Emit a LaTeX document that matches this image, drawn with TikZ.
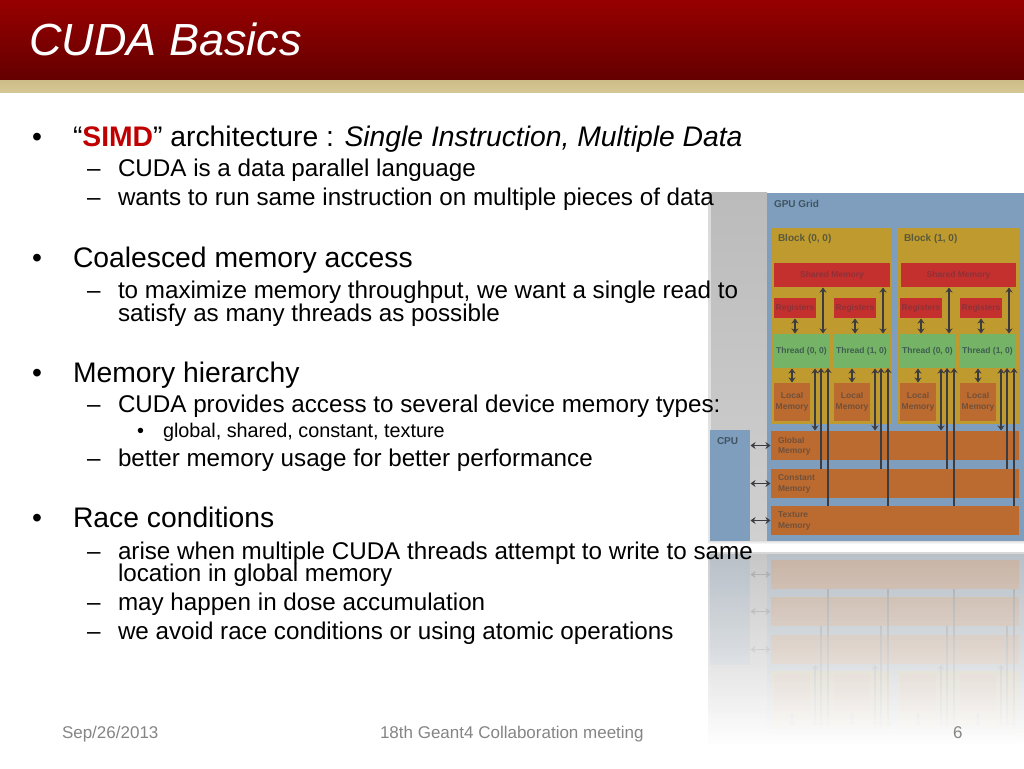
\documentclass[tikz,border=0pt]{standalone}
\usepackage{fontspec}
\setmainfont{Liberation Sans}
\usetikzlibrary{arrows.meta}
\definecolor{hdtop}{HTML}{970000}
\definecolor{hdbot}{HTML}{640000}
\definecolor{cream}{HTML}{D5C795}
\definecolor{creamb}{HTML}{CDBD88}
\definecolor{gridblue}{HTML}{7F9EBE}
\definecolor{gold}{HTML}{BF9A2E}
\definecolor{memred}{HTML}{C4302E}
\definecolor{thgreen}{HTML}{75B366}
\definecolor{memorange}{HTML}{BC6B30}
\definecolor{arrowc}{HTML}{3B3B40}
\definecolor{labc}{HTML}{3F5460}
\definecolor{labb}{HTML}{5A5A3A}
\definecolor{labr}{HTML}{8E3038}
\definecolor{labo}{HTML}{71503A}
\definecolor{labg}{HTML}{3F5E50}
\definecolor{grayback}{HTML}{BBBBBB}
\definecolor{grayback2}{HTML}{D0D0D0}
\definecolor{footc}{HTML}{858585}
\tikzset{
  bx/.style={inner sep=0pt,outer sep=0pt,draw=none,align=center,font=\fontsize{8.5}{10.5}\selectfont\bfseries},
  lab/.style={inner sep=0pt,outer sep=0pt,anchor=base west,align=left,font=\fontsize{8.5}{10.5}\selectfont\bfseries},
  labbig/.style={lab,font=\fontsize{10}{12}\selectfont\bfseries},
  dbl/.style={arrowc,line width=1.2pt,{Stealth[length=5pt,width=7pt]}-{Stealth[length=5pt,width=7pt]},shorten <=.5pt,shorten >=.5pt},
  upa/.style={arrowc,line width=1.2pt,{Stealth[length=5pt,width=7pt]}-},
  ltxt/.style={inner sep=0pt,outer sep=0pt,anchor=base west,text=black},
  one/.style={ltxt,font=\fontsize{28.3}{32}\selectfont},
  two/.style={ltxt,font=\fontsize{24.2}{28}\selectfont},
  three/.style={ltxt,font=\fontsize{19.8}{23}\selectfont},
  foot/.style={inner sep=0pt,outer sep=0pt,anchor=base west,text=footc,font=\fontsize{17}{20}\selectfont},
}
\newif\ifmirror
\newcommand{\bxn}[7]{%
  \pgfmathsetmacro{\bcx}{(#2+#4)/2}\pgfmathsetmacro{\bcy}{(#3+#5)/2}%
  \pgfmathsetmacro{\bw}{#4-#2}\pgfmathsetmacro{\bh}{#5-#3}%
  \node[bx,#6,minimum width=\bw pt,minimum height=\bh pt] (\pfx#1) at (\bcx,\bcy) {\ifmirror\else#7\fi};}
\newcommand{\labn}[6]{\ifmirror\else\node[#6,text=#5] (#1) at (#2,#3) {#4};\fi}
\newcommand{\griddraw}{%
  \shade[top color=grayback,bottom color=grayback2] (708,192) rectangle (767,541);
  \fill[white,opacity=.45] (708,192) rectangle (710.500,541);
  \bxn{grid}{767}{193}{1024}{541}{fill=gridblue}{}
  \bxn{cpu}{710}{430}{750}{541}{fill=gridblue}{}
  \bxn{blk0}{772}{228}{892}{424}{fill=gold}{}
  \bxn{blk1}{897}{228}{1019}{424}{fill=gold}{}
  \bxn{sm0}{774}{263}{890}{287}{fill=memred,text=labr}{Shared Memory}
  \bxn{sm1}{901}{263}{1016}{287}{fill=memred,text=labr}{Shared Memory}
  \bxn{glob}{771}{431}{1019}{460}{fill=memorange}{}
  \bxn{cons}{771}{469}{1019}{498}{fill=memorange}{}
  \bxn{text}{771}{506}{1019}{535}{fill=memorange}{}
  \foreach \n/\x/\b/\tl in {a/774/0/{Thread (0, 0)},b/834/0/{Thread (1, 0)},c/900/1/{Thread (0, 0)},d/960/1/{Thread (1, 0)}}{
    \pgfmathsetmacro{\xr}{\x+42}\pgfmathsetmacro{\xtl}{\x-1}\pgfmathsetmacro{\xtr}{\x+56}\pgfmathsetmacro{\xlm}{\x+36}
    \bxn{reg\n}{\x}{298}{\xr}{318}{fill=memred,text=labr}{Registers}
    \bxn{th\n}{\xtl}{334}{\xtr}{368}{fill=thgreen,text=labg}{\tl}
    \bxn{lm\n}{\x}{383}{\xlm}{421}{fill=memorange,text=labo}{Local\\Memory}
    \coordinate (\pfx sa\n) at (\x+49,0);
    \coordinate (\pfx ga\n) at (\x+41,0);
    \coordinate (\pfx ca\n) at (\x+47,0);
    \coordinate (\pfx ta\n) at (\x+54,0);
    \draw[dbl] (\pfx reg\n.south) -- (\pfx reg\n.south |- \pfx th\n.north);
    \draw[dbl] (\pfx lm\n.north) ++(0,0) -- (\pfx lm\n.north |- \pfx th\n.south);
    \draw[dbl] (\pfx sa\n |- \pfx sm\b.south) -- (\pfx sa\n |- \pfx th\n.north);
    \draw[dbl] (\pfx ga\n |- \pfx th\n.south) -- (\pfx ga\n |- \pfx glob.north);
    \draw[upa] (\pfx ca\n |- \pfx th\n.south) -- (\pfx ca\n |- \pfx cons.north);
    \draw[upa] (\pfx ta\n |- \pfx th\n.south) -- (\pfx ta\n |- \pfx text.north);
  }
  \draw[dbl] (\pfx cpu.east |- \pfx glob.west) -- (\pfx glob.west);
  \draw[dbl] (\pfx cpu.east |- \pfx cons.west) -- (\pfx cons.west);
  \draw[dbl] (\pfx cpu.east |- \pfx text.west) -- (\pfx text.west);
  \labn{lgrid}{774}{207}{GPU Grid}{labc}{labbig}
  \labn{lblk0}{778}{241.500}{Block (0, 0)}{labb}{labbig}
  \labn{lblk1}{904}{241.500}{Block (1, 0)}{labb}{labbig}
  \labn{lcpu}{717}{444}{CPU}{labc}{labbig}
  \labn{lglob}{778}{453.500}{Global\\Memory}{labo}{lab}
  \labn{lcons}{778}{491}{Constant\\Memory}{labo}{lab}
  \labn{ltext}{778}{528}{Texture\\Memory}{labo}{lab}
}
\begin{document}
\begin{tikzpicture}[x=1pt,y=-1pt]
\useasboundingbox (0,0) rectangle (1024,768);
\fill[white] (0,0) rectangle (1024,768);
% header
\shade[top color=hdtop,bottom color=hdbot] (0,0) rectangle (1024,80);
\shade[top color=creamb,bottom color=cream] (0,80) rectangle (1024,92);
\node[inner sep=0pt,anchor=base west,text=white,font=\fontsize{45}{50}\selectfont\itshape] (title) at (29,56) {CUDA Basics};
% picture and reflection
\def\pfx{}\mirrorfalse
\griddraw
\begin{scope}
\clip (708,552) rectangle (1024,760);
\begin{scope}[shift={(0,1095)},yscale=-1,transform shape]
\def\pfx{m}\mirrortrue
\griddraw
\end{scope}
\foreach \yy in {552,...,745}{
  \pgfmathsetmacro{\tt}{min(1,(\yy-552)/193)}
  \pgfmathsetmacro{\op}{0.75+0.25*\tt}
  \pgfmathsetmacro{\cc}{203+52*\tt}
  \definecolor{ovc}{RGB}{\cc,\cc,\cc}
  \fill[ovc,opacity=\op] (708,\yy) rectangle (1024,\yy+1);
}
\fill[white] (708,746) rectangle (1024,768);
\end{scope}
\shade[top color=white!88!black,bottom color=white] (708,541) rectangle (1024,544);
\fill[white] (708,544) rectangle (1024,552);
% body text
\node[one] (b1) at (32,146) {•};
\node[one] (t1) at (73,146) {“\textcolor[HTML]{C00000}{\textbf{SIMD}}” architecture : \textit{Single Instruction, Multiple Data}};
\node[two] (d1) at (87,176) {–};
\node[two] (t2) at (118,176) {CUDA is a data parallel language};
\node[two] (d2) at (87,205) {–};
\node[two] (t3) at (118,205) {wants to run same instruction on multiple pieces of data};
\node[one] (b2) at (32,267) {•};
\node[one] (t4) at (73,267) {Coalesced memory access};
\node[two] (d3) at (87,298) {–};
\node[two] (t5) at (118,298) {to maximize memory throughput, we want a single read to};
\node[two] (t6) at (118,321) {satisfy as many threads as possible};
\node[one] (b3) at (32,382) {•};
\node[one] (t7) at (73,382) {Memory hierarchy};
\node[two] (d4) at (87,412) {–};
\node[two] (t8) at (118,412) {CUDA provides access to several device memory types:};
\node[three] (b4) at (137,437) {•};
\node[three] (t9) at (163,437) {global, shared, constant, texture};
\node[two] (d5) at (87,466) {–};
\node[two] (t10) at (118,466) {better memory usage for better performance};
\node[one] (b5) at (32,527) {•};
\node[one] (t11) at (73,527) {Race conditions};
\node[two] (d6) at (87,559) {–};
\node[two] (t12) at (118,559) {arise when multiple CUDA threads attempt to write to same};
\node[two] (t13) at (118,581) {location in global memory};
\node[two] (d7) at (87,610) {–};
\node[two] (t14) at (118,610) {may happen in dose accumulation};
\node[two] (d8) at (87,639) {–};
\node[two] (t15) at (118,639) {we avoid race conditions or using atomic operations};
% footer
\node[foot] (f1) at (62,738) {Sep/26/2013};
\node[foot] (f2) at (380,738) {18th Geant4 Collaboration meeting};
\node[foot] (f3) at (953,738) {6};
\end{tikzpicture}
\end{document}
